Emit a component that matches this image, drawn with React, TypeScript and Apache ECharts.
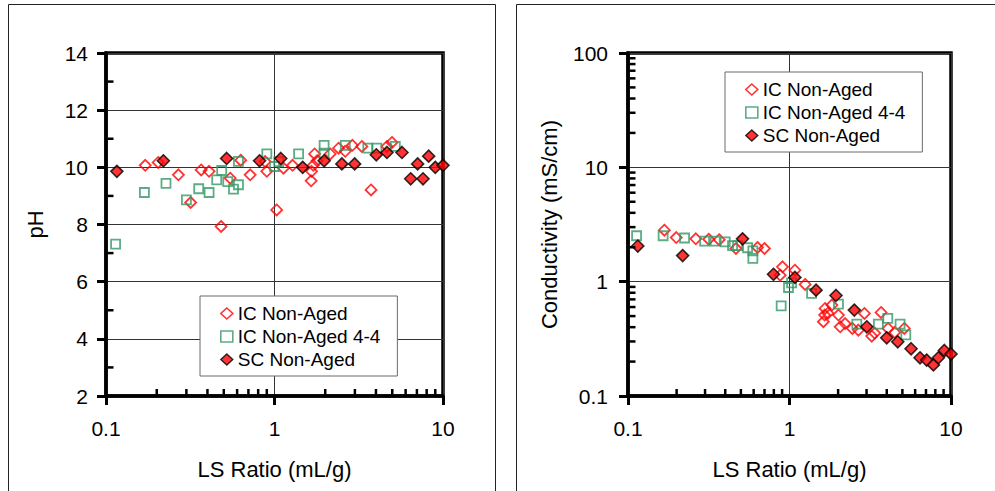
import React, { useEffect, useRef } from "react";
import * as echarts from "echarts";

// ---- pH chart data (LS ratio mL/g, pH) ----
const phIcX = [0.171, 0.204, 0.269, 0.318, 0.367, 0.409, 0.482, 0.546, 0.63, 0.717, 0.9, 0.88, 1.03, 1.13, 1.28, 1.65, 1.66, 1.7, 1.73, 1.79, 2.14, 2.4, 2.63, 2.9, 3.3, 3.74, 4.65, 4.98];
const phIcY = [10.07, 10.17, 9.74, 8.77, 9.91, 9.86, 7.93, 9.62, 10.25, 9.74, 9.86, 10.2, 8.51, 9.97, 10.07, 9.53, 9.86, 10.07, 10.47, 10.23, 10.47, 10.67, 10.56, 10.77, 10.73, 9.21, 10.73, 10.87];
const phIc44X = [0.114, 0.169, 0.227, 0.3, 0.355, 0.409, 0.454, 0.486, 0.528, 0.571, 0.611, 0.611, 0.9, 1.0, 1.06, 1.39, 1.97, 1.97, 2.63, 3.58, 4.05, 5.21];
const phIc44Y = [7.31, 9.12, 9.44, 8.86, 9.25, 9.12, 9.56, 9.89, 9.5, 9.24, 9.39, 10.21, 10.47, 10.03, 10.2, 10.47, 10.77, 10.5, 10.77, 10.67, 10.67, 10.73];
const phScX = [0.116, 0.219, 0.52, 0.815, 1.09, 1.47, 1.97, 2.51, 2.99, 4.02, 4.65, 5.71, 6.43, 7.07, 7.61, 8.22, 9.0, 10.0];
const phScY = [9.86, 10.23, 10.31, 10.23, 10.31, 10.0, 10.23, 10.12, 10.12, 10.44, 10.52, 10.52, 9.6, 10.12, 9.6, 10.39, 10.0, 10.07];

// ---- Conductivity chart data (LS ratio mL/g, mS/cm) ----
const condIcX = [0.168, 0.199, 0.263, 0.316, 0.367, 0.466, 0.634, 0.7, 0.876, 0.905, 1.08, 1.25, 1.62, 1.65, 1.66, 1.73, 1.83, 2.01, 2.06, 2.21, 2.45, 2.67, 2.91, 3.23, 3.37, 3.69, 4.08, 4.48, 5.14];
const condIcY = [2.82, 2.43, 2.37, 2.35, 2.33, 1.95, 1.99, 1.95, 1.14, 1.35, 1.26, 0.946, 0.446, 0.51, 0.583, 0.53, 0.624, 0.51, 0.403, 0.43, 0.39, 0.377, 0.527, 0.334, 0.355, 0.538, 0.39, 0.36, 0.39];
const condIc44X = [0.113, 0.165, 0.224, 0.298, 0.347, 0.4, 0.444, 0.477, 0.55, 0.593, 0.593, 0.888, 0.986, 1.03, 1.37, 2.01, 2.61, 3.55, 4.06, 4.84, 5.25];
const condIc44Y = [2.52, 2.52, 2.41, 2.26, 2.26, 2.23, 2.07, 2.07, 1.98, 1.86, 1.6, 0.615, 0.889, 0.977, 0.789, 0.637, 0.426, 0.426, 0.477, 0.426, 0.343];
const condScX = [0.115, 0.218, 0.512, 0.796, 1.08, 1.46, 1.94, 2.52, 3.01, 4.0, 4.68, 5.66, 6.43, 7.07, 7.78, 8.35, 9.1, 10.0];
const condScY = [2.05, 1.69, 2.37, 1.16, 1.09, 0.843, 0.757, 0.564, 0.403, 0.323, 0.298, 0.259, 0.216, 0.206, 0.187, 0.216, 0.25, 0.233];

// ---- names and ticks ----
const seriesNames = ["IC Non-Aged", "IC Non-Aged 4-4", "SC Non-Aged"];
const xMinorTicks = [0.2, 0.3, 0.4, 0.5, 0.6, 0.7, 0.8, 0.9, 2, 3, 4, 5, 6, 7, 8, 9];
const phMinorTicks = [3, 5, 7, 9, 11, 13];
const condMinorTicks = [0.2, 0.3, 0.4, 0.5, 0.6, 0.7, 0.8, 0.9, 2, 3, 4, 5, 6, 7, 8, 9, 20, 30, 40, 50, 60, 70, 80, 90];

const FONT = "Liberation Sans, Arial, sans-serif";
const RED = "#ff0000";
const GREEN = "#339966";
const AXIS_W = 3.5;

const zip = (xs: number[], ys: number[]) => xs.map((x, i) => [x, ys[i]]);

export default function App() {
  const ref = useRef<HTMLDivElement>(null);
  useEffect(() => {
    if (!ref.current) return;
    const chart = echarts.init(ref.current, undefined, { renderer: "svg" });

    const xAxisBase = (gridIndex: number) => ({
      type: "log" as const,
      logBase: 10,
      min: 0.1,
      max: 10,
      gridIndex,
      name: "LS Ratio (mL/g)",
      nameLocation: "middle" as const,
      nameGap: 62,
      nameTextStyle: { fontSize: 22, color: "#000", fontFamily: FONT },
      axisLine: { show: true, onZero: false, lineStyle: { color: "#000", width: AXIS_W } },
      axisTick: { show: true, inside: false, length: 9, lineStyle: { color: "#000", width: 3 } },
      axisLabel: { fontSize: 21, color: "#000", fontFamily: FONT, margin: 22 },
      splitLine: { show: true, lineStyle: { color: "#333", width: 1 } },
    });

    const xMinorSeries = (idx: number, yBase: number) => ({
      type: "custom" as const,
      xAxisIndex: idx,
      yAxisIndex: idx,
      silent: true,
      clip: false,
      z: 5,
      encode: { x: 0, y: 1 },
      data: xMinorTicks.map((v) => [v, yBase]),
      renderItem: (_p: any, api: any) => {
        const pt = api.coord([api.value(0), api.value(1)]);
        return {
          type: "line",
          shape: { x1: pt[0], y1: pt[1] - 1.5, x2: pt[0], y2: pt[1] - 7 },
          style: { stroke: "#000", lineWidth: 2.5 },
        };
      },
    });

    const yMinorSeries = (idx: number, ticks: number[], xBase: number) => ({
      type: "custom" as const,
      xAxisIndex: idx,
      yAxisIndex: idx,
      silent: true,
      clip: false,
      z: 5,
      encode: { x: 0, y: 1 },
      data: ticks.map((v) => [xBase, v]),
      renderItem: (_p: any, api: any) => {
        const pt = api.coord([api.value(0), api.value(1)]);
        return {
          type: "line",
          shape: { x1: pt[0] + 1.5, y1: pt[1], x2: pt[0] + 7.5, y2: pt[1] },
          style: { stroke: "#000", lineWidth: 2.5 },
        };
      },
    });

    const scatter = (idx: number, kind: number, data: number[][]) => {
      const styles = [
        { symbol: "diamond", symbolSize: 11, itemStyle: { color: "rgba(0,0,0,0)", borderColor: RED, borderWidth: 1.8 } },
        { symbol: "rect", symbolSize: 9, itemStyle: { color: "rgba(0,0,0,0)", borderColor: GREEN, borderWidth: 1.8 } },
        { symbol: "diamond", symbolSize: 12, itemStyle: { color: RED, borderColor: "#000", borderWidth: 1.6 } },
      ];
      return {
        type: "scatter" as const,
        name: seriesNames[kind],
        xAxisIndex: idx,
        yAxisIndex: idx,
        data,
        z: 3,
        ...styles[kind],
      };
    };

    const legendData = [
      { name: seriesNames[0], icon: "diamond", itemStyle: { color: "rgba(0,0,0,0)", borderColor: RED, borderWidth: 1.6 } },
      { name: seriesNames[1], icon: "rect", itemStyle: { color: "rgba(0,0,0,0)", borderColor: GREEN, borderWidth: 1.6 } },
      { name: seriesNames[2], icon: "diamond", itemStyle: { color: RED, borderColor: "#000", borderWidth: 1.4 } },
    ];

    const legendBase = (left: number, top: number) => ({
      orient: "vertical" as const,
      left,
      top,
      data: legendData,
      itemWidth: 12,
      itemHeight: 11,
      itemGap: 4,
      padding: [8, 17, 7, 20],
      backgroundColor: "#fff",
      borderColor: "#6b6b6b",
      borderWidth: 1,
      selectedMode: false,
      z: 6,
      textStyle: { fontSize: 19, color: "#000", fontFamily: FONT },
    });

    chart.setOption({
      animation: false,
      backgroundColor: "#fff",
      graphic: [
        { type: "rect", shape: { x: 8.5, y: 4.5, width: 487, height: 520 }, style: { fill: "none", stroke: "#222", lineWidth: 1 }, z: -10 },
        { type: "rect", shape: { x: 516.5, y: 4.5, width: 520, height: 520 }, style: { fill: "none", stroke: "#222", lineWidth: 1 }, z: -10 },
      ],
      grid: [
        { left: 106, top: 53, width: 337, height: 343, show: true, borderColor: "#000", borderWidth: AXIS_W },
        { left: 628, top: 53, width: 323, height: 343, show: true, borderColor: "#000", borderWidth: AXIS_W },
      ],
      legend: [legendBase(200, 296), legendBase(725, 72)],
      xAxis: [xAxisBase(0), xAxisBase(1)],
      yAxis: [
        {
          type: "value",
          gridIndex: 0,
          min: 2,
          max: 14,
          interval: 2,
          name: "pH",
          nameLocation: "middle",
          nameGap: 60,
          nameTextStyle: { fontSize: 22, color: "#000", fontFamily: FONT },
          axisLine: { show: true, onZero: false, lineStyle: { color: "#000", width: AXIS_W } },
          axisTick: { show: true, inside: false, length: 9, lineStyle: { color: "#000", width: 3 } },
          axisLabel: { fontSize: 21, color: "#000", fontFamily: FONT, margin: 18 },
          splitLine: { show: true, lineStyle: { color: "#333", width: 1 } },
        },
        {
          type: "log",
          logBase: 10,
          gridIndex: 1,
          min: 0.1,
          max: 100,
          name: "Conductivity (mS/cm)",
          nameLocation: "middle",
          nameGap: 68,
          nameTextStyle: { fontSize: 22, color: "#000", fontFamily: FONT },
          axisLine: { show: true, onZero: false, lineStyle: { color: "#000", width: AXIS_W } },
          axisTick: { show: true, inside: false, length: 9, lineStyle: { color: "#000", width: 3 } },
          axisLabel: { fontSize: 21, color: "#000", fontFamily: FONT, margin: 20 },
          splitLine: { show: true, lineStyle: { color: "#333", width: 1 } },
        },
      ],
      series: [
        scatter(0, 0, zip(phIcX, phIcY)),
        scatter(0, 1, zip(phIc44X, phIc44Y)),
        scatter(0, 2, zip(phScX, phScY)),
        scatter(1, 0, zip(condIcX, condIcY)),
        scatter(1, 1, zip(condIc44X, condIc44Y)),
        scatter(1, 2, zip(condScX, condScY)),
        xMinorSeries(0, 2),
        xMinorSeries(1, 0.1),
        yMinorSeries(0, phMinorTicks, 0.1),
        yMinorSeries(1, condMinorTicks, 0.1),
      ],
    });

    return () => chart.dispose();
  }, []);

  return (
    <div
      ref={ref}
      style={{ position: "absolute", left: 0, top: 0, width: 995, height: 491, background: "#fff" }}
    />
  );
}
